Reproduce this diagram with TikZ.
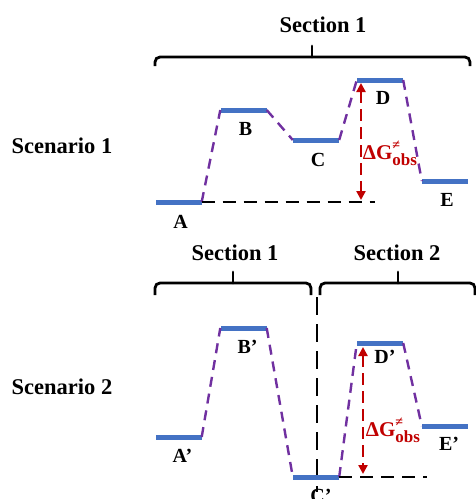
\documentclass[tikz,border=0pt]{standalone}
\usepackage{fontspec}
\setmainfont{Liberation Serif}
\usetikzlibrary{arrows.meta,positioning}
\definecolor{lvlblue}{HTML}{4472C4}
\definecolor{pathpurple}{HTML}{7030A0}
\definecolor{barrred}{HTML}{C00000}

\begin{document}
\begin{tikzpicture}[x=1pt,y=-1pt,>={Triangle[length=9pt,width=9pt]},
  level/.style={fill=lvlblue,minimum width=46pt,minimum height=5pt,inner sep=0pt},
  lbl/.style={font=\fontsize{20}{22}\selectfont\bfseries,inner sep=0pt},
  head/.style={font=\fontsize{22.5}{26}\selectfont\bfseries,inner sep=0pt},
  rxn/.style={pathpurple,line width=2.4pt,dash pattern=on 10pt off 7pt},
  base/.style={black,line width=2pt,dash pattern=on 13pt off 8pt},
  barr/.style={<->,barrred,line width=2.4pt,dash pattern=on 12pt off 6pt},
  brc/.style={line width=2.8pt,rounded corners=5pt},
  tip/.style={line width=2.8pt,line cap=round}]
\useasboundingbox (0,0) rectangle (476,499);

% Scenario 1
\node[head] (sc1) at (62,146) {Scenario 1};
\node[head] (sec1) at (323,25) {Section 1};
\coordinate (b1l) at (155,66);
\coordinate (b1m) at (312,57);
\coordinate (b1r) at (470,66);
\draw[brc] (b1l) |- (b1m) -| (b1r);
\draw[tip] (b1m) -- ++(0,-11);

\node[level] (lA) at (178.5,202) {};
\node[level] (lB) at (243.5,110) {};
\node[level] (lC) at (316,140) {};
\node[level] (lD) at (380,80) {};
\node[level] (lE) at (445,181) {};
\node[lbl,below=10pt of lA,xshift=2pt] (tA) {A};
\node[lbl,below=10pt of lB,xshift=2pt] (tB) {B};
\node[lbl,below=10pt of lC,xshift=2pt] (tC) {C};
\node[lbl,below=8pt of lD,xshift=3pt] (tD) {D};
\node[lbl,below=9pt of lE,xshift=2pt] (tE) {E};

\draw[rxn] (lA.east) -- (lB.west);
\draw[rxn] (lB.east) -- (lC.west);
\draw[rxn] (lC.east) -- (lD.west);
\draw[rxn] (lD.east) -- (lE.west);

\coordinate (base1) at (375,202);
\draw[base] (lA.east) -- (base1);
\coordinate (g1top) at (361,83);
\coordinate (g1bot) at (361,200);
\draw[barr] (g1top) -- (g1bot);
\node[font=\fontsize{21}{22}\selectfont\bfseries,text=barrred,inner sep=0pt] (dg1) at (390,153)
  {ΔG\makebox[0pt][l]{\raisebox{1.1ex}{\fontsize{14}{14}\selectfont ≠}}\raisebox{-0.55ex}{\fontsize{17}{17}\selectfont obs}};

% Scenario 2
\node[head] (sc2) at (62,387) {Scenario 2};
\node[head] (sec21) at (235,253) {Section 1};
\node[head] (sec22) at (397,253) {Section 2};
\coordinate (b2l) at (155,295);
\coordinate (b2m) at (233,283);
\coordinate (b2r) at (311,295);
\coordinate (b3l) at (320,295);
\coordinate (b3m) at (398,283);
\coordinate (b3r) at (475,295);
\draw[brc] (b2l) |- (b2m) -| (b2r);
\draw[tip] (b2m) -- ++(0,-11);
\draw[brc] (b3l) |- (b3m) -| (b3r);
\draw[tip] (b3m) -- ++(0,-11);

\coordinate (vtop) at (317,297);
\coordinate (vbot) at (317,492);
\draw[black,line width=2pt,dash pattern=on 18pt off 9pt] (vtop) -- (vbot);

\node[level] (lAp) at (178.5,437) {};
\node[level] (lBp) at (243.5,328) {};
\node[level] (lCp) at (316,477) {};
\node[level] (lDp) at (380,343) {};
\node[level] (lEp) at (445,426) {};
\node[lbl,below=9pt of lAp,xshift=4pt] (tAp) {A’};
\node[lbl,below=9pt of lBp,xshift=4pt] (tBp) {B’};
\node[lbl,below=9pt of lCp,xshift=5pt] (tCp) {C’};
\node[lbl,below=4pt of lDp,xshift=5pt] (tDp) {D’};
\node[lbl,below=8pt of lEp,xshift=4pt] (tEp) {E’};

\draw[rxn] (lAp.east) -- (lBp.west);
\draw[rxn] (lBp.east) -- (lCp.west);
\draw[rxn] (lCp.east) -- (lDp.west);
\draw[rxn] (lDp.east) -- (lEp.west);

\coordinate (base2) at (427,477);
\draw[base] (lCp.east) -- (base2);
\coordinate (g2top) at (363,347);
\coordinate (g2bot) at (363,474);
\draw[barr] (g2top) -- (g2bot);
\node[font=\fontsize{21}{22}\selectfont\bfseries,text=barrred,inner sep=0pt] (dg2) at (393,430)
  {ΔG\makebox[0pt][l]{\raisebox{1.1ex}{\fontsize{14}{14}\selectfont ≠}}\raisebox{-0.55ex}{\fontsize{17}{17}\selectfont obs}};
\end{tikzpicture}
\end{document}
